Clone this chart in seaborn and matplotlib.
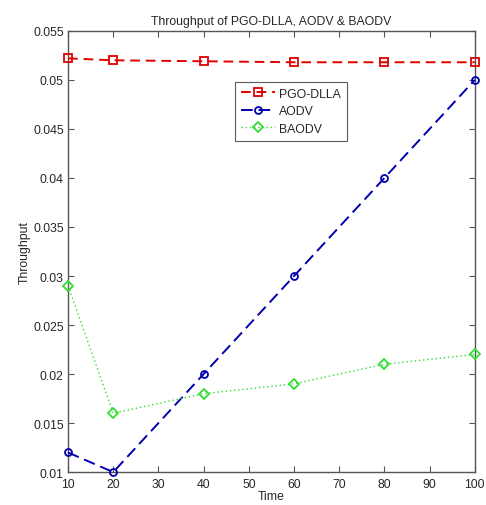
import numpy as np
import pandas as pd
import matplotlib
matplotlib.use('Agg')
import matplotlib.pyplot as plt
import seaborn as sns

time = [10, 20, 40, 60, 80, 100]
pgo_dlla = [0.0522, 0.0520, 0.0519, 0.0518, 0.0518, 0.0518]
aodv = [0.012, 0.010, 0.020, 0.030, 0.040, 0.050]
baodv = [0.029, 0.016, 0.018, 0.019, 0.021, 0.022]

sns.set_style('white')
plt.rcParams['font.family'] = ['Liberation Sans', 'DejaVu Sans']
plt.rcParams['font.size'] = 8.8

fig = plt.figure(figsize=(4.86, 5.06), dpi=100)
ax = fig.add_axes([0.14, 0.065, 0.837, 0.872])

series = [
    ('PGO-DLLA', pgo_dlla, '#e00000', 's', (0, (5, 3)), 1.4, 6),
    ('AODV', aodv, '#0000b0', 'o', (0, (6, 3)), 1.4, 5),
    ('BAODV', baodv, '#33dd33', 'D', (0, (1, 2)), 1.0, 5),
]
for name, vals, col, mk, ls, lw, ms in series:
    df = pd.DataFrame({'Time': time, 'Throughput': vals})
    sns.lineplot(data=df, x='Time', y='Throughput', ax=ax, color=col, marker=mk,
                 markersize=ms, markerfacecolor='none', markeredgecolor=col,
                 markeredgewidth=1.3, linestyle=ls, linewidth=lw, label=name,
                 clip_on=False, zorder=3)

ax.set_xlim(10, 100)
ax.set_ylim(0.01, 0.055)
ax.set_xticks(range(10, 101, 10))
ax.set_yticks(np.arange(0.01, 0.0551, 0.005))
ax.set_yticklabels(['0.01', '0.015', '0.02', '0.025', '0.03', '0.035', '0.04',
                    '0.045', '0.05', '0.055'])
ax.tick_params(direction='in', top=True, right=True, length=4, color='#555555',
               labelsize=8.8, bottom=True, left=True)
ax.tick_params(axis='x', pad=4)
ax.tick_params(axis='y', pad=3)
for sp in ax.spines.values():
    sp.set_color('#555555')
    sp.set_linewidth(1.0)
ax.set_title('Throughput of PGO-DLLA, AODV & BAODV', fontsize=8.8, pad=5)
ax.set_xlabel('Time', fontsize=8.8, labelpad=0)
ax.set_ylabel('Throughput', fontsize=8.8, labelpad=2)
lines = ax.get_lines()[:3]
leg = ax.legend(lines, [s[0] for s in series], loc='upper left',
                bbox_to_anchor=(0.41, 0.885), fontsize=8.8,
                frameon=True, fancybox=False, borderpad=0.5, labelspacing=0.45,
                handlelength=2.8, handletextpad=0.3, borderaxespad=0)
leg.get_frame().set_edgecolor('#333333')
leg.get_frame().set_linewidth(0.8)

fig.savefig('out.png', dpi=100)
